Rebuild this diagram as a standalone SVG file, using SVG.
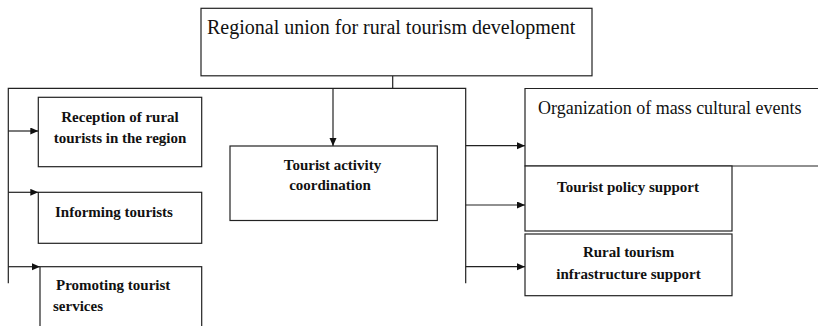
<svg xmlns="http://www.w3.org/2000/svg" width="818" height="326" viewBox="0 0 818 326">
<style>
.box{fill:#fff;stroke:#222;stroke-width:1.2}
.ln{fill:none;stroke:#222;stroke-width:1.2}
.t{font-family:"Liberation Serif","Times New Roman",serif;fill:#111}
.big{font-size:20px}
.mid{font-size:18px}
.sm{font-size:15px;font-weight:bold}
</style>
<defs>
<marker id="ah" markerUnits="userSpaceOnUse" markerWidth="9" markerHeight="8" refX="8" refY="3.5" orient="auto">
<path d="M0,0 L8,3.5 L0,7 z" fill="#111"/>
</marker>
</defs>
<rect width="818" height="326" fill="#fff"/>
<g id="connectors">
<path class="ln" d="M392.7,76 V88.3"/>
<path class="ln" d="M8.3,283.3 V88.3 H465.7 V283.3"/>
<path class="ln" d="M333,88.3 V146" marker-end="url(#ah)"/>
<path class="ln" d="M8.3,131 H38.3" marker-end="url(#ah)"/>
<path class="ln" d="M8.3,192.3 H38.3" marker-end="url(#ah)"/>
<path class="ln" d="M8.3,266.7 H40" marker-end="url(#ah)"/>
<path class="ln" d="M465.7,145.7 H525" marker-end="url(#ah)"/>
<path class="ln" d="M465.7,205 H525" marker-end="url(#ah)"/>
<path class="ln" d="M465.7,266.7 H525" marker-end="url(#ah)"/>
</g>
<g id="n-union">
<rect class="box" x="201" y="8.3" width="391" height="67.5"/>
<text class="t big" x="207" y="34">Regional union for rural tourism development</text>
</g>
<g id="n-reception">
<rect class="box" x="38.3" y="97.3" width="163.4" height="69.4"/>
<text class="t sm" text-anchor="middle" x="120" y="122">Reception of rural</text>
<text class="t sm" text-anchor="middle" x="120" y="143">tourists in the region</text>
</g>
<g id="n-informing">
<rect class="box" x="38.3" y="192.3" width="163.4" height="51"/>
<text class="t sm" x="55" y="217">Informing tourists</text>
</g>
<g id="n-promoting">
<rect class="box" x="40" y="266.7" width="161.7" height="70"/>
<text class="t sm" x="56" y="290">Promoting tourist</text>
<text class="t sm" x="53" y="311">services</text>
</g>
<g id="n-coordination">
<rect class="box" x="230" y="146" width="207.3" height="74.5"/>
<text class="t sm" text-anchor="middle" x="332.5" y="169.5">Tourist activity</text>
<text class="t sm" text-anchor="middle" x="330" y="190">coordination</text>
</g>
<g id="n-events">
<path class="ln" d="M830,88.5 H525 V166 H830"/>
<text class="t mid" x="538" y="113.5">Organization of mass cultural events</text>
</g>
<g id="n-policy">
<rect class="box" x="525" y="166" width="207" height="65"/>
<text class="t sm" text-anchor="middle" x="628" y="192">Tourist policy support</text>
</g>
<g id="n-infra">
<rect class="box" x="525" y="234" width="207" height="61.7"/>
<text class="t sm" text-anchor="middle" x="628.5" y="257">Rural tourism</text>
<text class="t sm" text-anchor="middle" x="628.5" y="278.5">infrastructure support</text>
</g>
</svg>
